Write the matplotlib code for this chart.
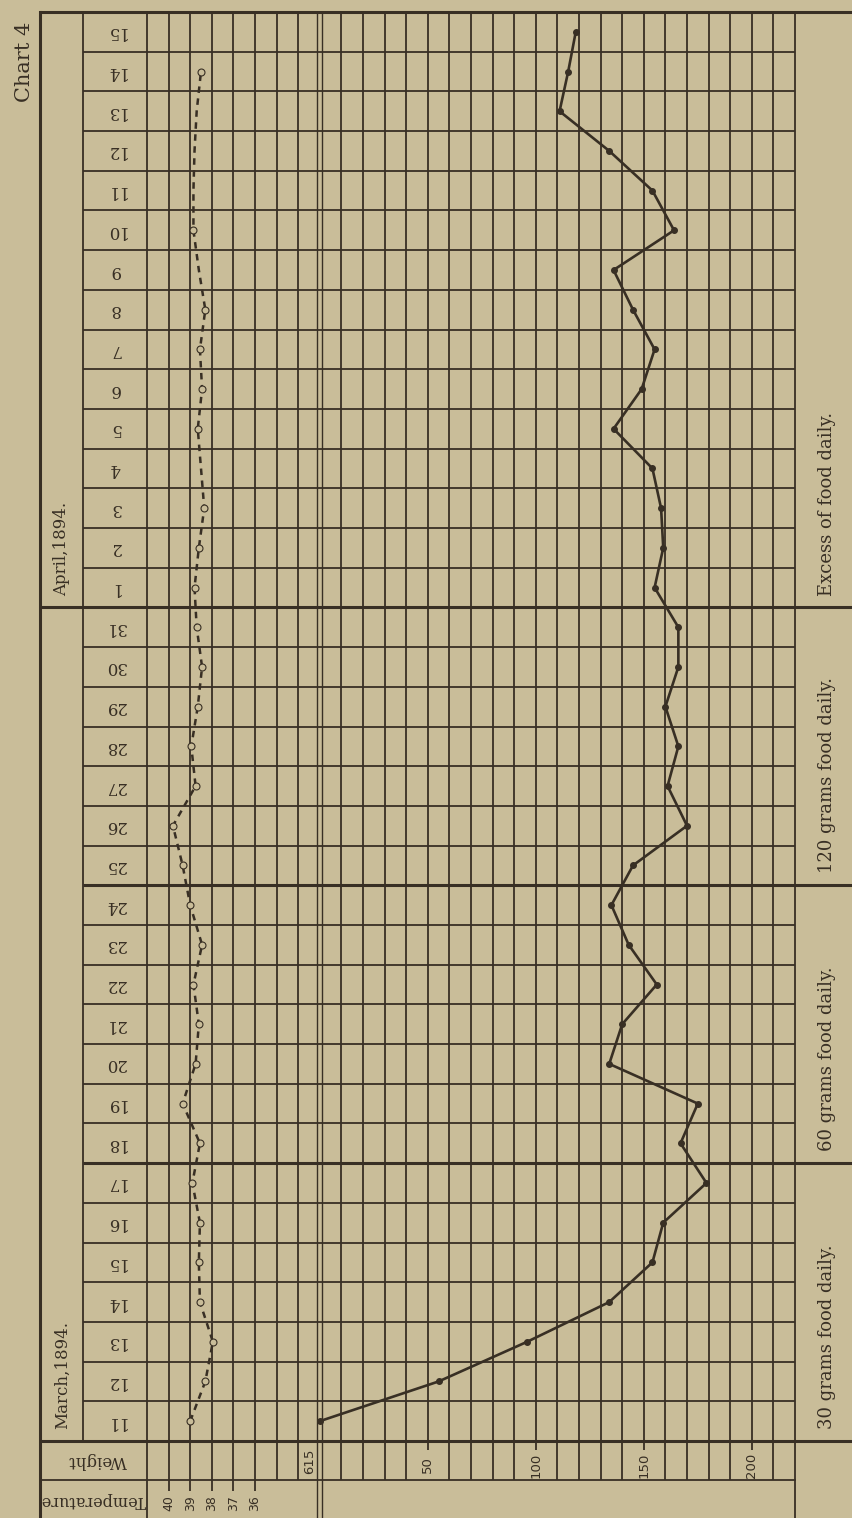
import matplotlib
matplotlib.use("Agg")
import matplotlib.pyplot as plt
import matplotlib.transforms as mtransforms
import numpy as np

# days along the chart: 11-31 March, 1-15 April 1894
march_days = list(range(11, 32))
april_days = list(range(1, 16))
day_labels = [str(d) for d in march_days + april_days]

# loss of weight from the starting 615, one reading a day
weight_loss = [0, 55, 96, 134, 154, 159, 179, 167, 175, 134, 140, 156, 143, 135,
               145, 170, 161, 166, 160, 166, 166,
               155, 159, 158, 154, 136, 149, 155, 145, 136, 164, 154, 134, 111, 115, 118.5]

# body temperature, 11 March - 14 April
temperature = [39.0, 38.3, 37.95, 38.55, 38.6, 38.55, 38.9, 38.55, 39.35, 38.75,
               38.6, 38.85, 38.45, 39.0, 39.35, 39.8, 38.75, 38.95, 38.65, 38.45, 38.7,
               38.8, 38.6, 38.35, 38.5, 38.65, 38.45, 38.55, 38.3, 38.6, 38.85,
               38.85, 38.8, 38.7, 38.5]
# days where the reading is marked with a circle
temp_circled = [1] * 24 + [0] + [1] * 4 + [0] + [1] + [0, 0, 0] + [1]

weight_ticks = [0, 50, 100, 150, 200]
weight_tick_labels = ["615", "50", "100", "150", "200"]
temp_ticks = [40, 39, 38, 37, 36]

# (label, first day index, end day index)
periods = [("30 grams food daily.", 0, 7),
           ("60 grams food daily.", 7, 14),
           ("120 grams food daily.", 14, 21),
           ("Excess of food daily.", 21, 36)]
months = [("March,1894.", 0, 21), ("April,1894.", 21, 36)]

BG = "#c9bd99"
INK = "#382f24"
SERIF = "DejaVu Serif"
SANS = "DejaVu Sans"

W, H = 852, 1518
GL, GR, GT, GB = 147, 795, 12, 1441   # grid box in pixels
ROW_W = 1480                          # bottom of the weight row
LW = 1.3
LW_THICK = 2.2

fig = plt.figure(figsize=(W / 100, H / 100), dpi=100, facecolor=BG)

frame = fig.add_axes([0, 0, 1, 1])
frame.set_autoscale_on(False)
frame.set_xlim(0, W)
frame.set_ylim(H, 0)
frame.axis("off")

ax = fig.add_axes([GL / W, (H - GB) / H, (GR - GL) / W, (GB - GT) / H])
ax.set_xlim(-80, 220)
ax.set_ylim(-0.5, 35.5)
ax.axis("off")
ax.patch.set_alpha(0)

tax = ax.twiny()
tax.set_xlim(41, 11)
tax.axis("off")

wx = mtransforms.blended_transform_factory(ax.transData, frame.transData)
tx = mtransforms.blended_transform_factory(tax.transData, frame.transData)
ry = mtransforms.blended_transform_factory(frame.transData, ax.transData)

# vertical rules, one every 10 units of weight
for w in np.arange(-80, 221, 10):
    if w == 0:
        # the 615 base line is ruled double
        for off in (-1.1, 1.1):
            frame.plot([w + off, w + off], [GT, H], color=INK, lw=1.0,
                       transform=wx, solid_capstyle="butt")
        continue
    if w in (-80, 220):
        bottom = H
    elif w in weight_ticks:
        bottom = 1450
    elif -70 <= w <= -30:
        bottom = 1491
    else:
        bottom = ROW_W
    frame.plot([w, w], [GT, bottom], color=INK, lw=LW, transform=wx,
               solid_capstyle="butt")

# horizontal rules between days
n_days = len(day_labels)
breaks = [p[1] for p in periods[1:]]
for j in range(n_days + 1):
    y = j - 0.5
    if j in (0, n_days):
        x0, x1, lw = 40, W, LW_THICK
    elif j in breaks:
        x0, x1, lw = (40 if j == 21 else 83), W, LW_THICK
    else:
        x0, x1, lw = 83, GR, LW
    frame.plot([x0, x1], [y, y], color=INK, lw=lw, transform=ry,
               solid_capstyle="butt")

# outer frame and header cells
frame.plot([40, 40], [GT, H], color=INK, lw=LW_THICK)
frame.plot([83, 83], [GT, GB], color=INK, lw=LW)
frame.plot([40, GR], [ROW_W, ROW_W], color=INK, lw=LW)

# day numbers
for i, lab in enumerate(day_labels):
    frame.text(115, i, lab, transform=ry, rotation=180, ha="center", va="center",
               fontsize=12, family=SERIF, color=INK)

for lab, start, end in months:
    frame.text(62, start - 0.5 + 0.3, lab, transform=ry, rotation=90,
               rotation_mode="anchor", ha="left", va="center",
               fontsize=12, family=SERIF, color=INK)

for lab, start, end in periods:
    frame.text(827, start - 0.5 + 0.3, lab, transform=ry, rotation=90,
               rotation_mode="anchor", ha="left", va="center",
               fontsize=13, family=SERIF, color=INK)

frame.text(98, 1461, "Weight", rotation=180, ha="center", va="center",
           fontsize=12, family=SERIF, color=INK)
frame.text(93, 1501, "Temperature", rotation=180, ha="center", va="center",
           fontsize=11.5, family=SERIF, color=INK)
frame.text(25, 62, "Chart 4", rotation=90, ha="center", va="center",
           fontsize=15, family=SERIF, color=INK)

# axis labels
for w, lab in zip(weight_ticks, weight_tick_labels):
    if w == 0:
        frame.text(w - 4.5, 1461, lab, transform=wx, rotation=90, ha="center",
                   va="center", fontsize=9.5, family=SANS, color=INK)
    else:
        frame.text(w, 1465, lab, transform=wx, rotation=90, ha="center",
                   va="center", fontsize=9.5, family=SANS, color=INK)
for t in temp_ticks:
    frame.text(t, 1503, str(t), transform=tx, rotation=90, ha="center",
               va="center", fontsize=9, family=SANS, color=INK)

# weight curve
days = np.arange(n_days)
ax.plot(weight_loss, days, color=INK, lw=1.9, marker="o", markersize=4,
        markerfacecolor=INK, markeredgecolor=INK, zorder=5)

# temperature curve
tdays = np.arange(len(temperature))
temps = np.array(temperature)
circled = np.array(temp_circled, dtype=bool)
tax.plot(temps, tdays, color=INK, lw=1.8, dashes=(2.6, 2.2), zorder=5)
tax.plot(temps[circled], tdays[circled], linestyle="none", marker="o",
         markersize=5, markerfacecolor=BG, markeredgecolor=INK,
         markeredgewidth=0.8, zorder=6)

fig.savefig("out.png", dpi=100, facecolor=BG)
